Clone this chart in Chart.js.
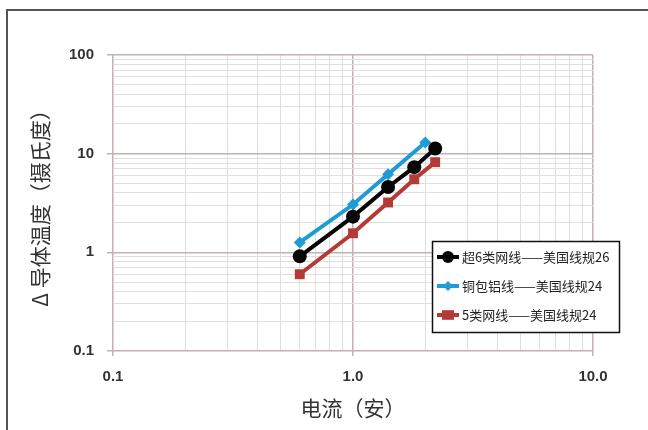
<!DOCTYPE html>
<html>
<head>
<meta charset="utf-8">
<script src="https://cdn.jsdelivr.net/npm/chart.js@4/dist/chart.umd.min.js"></script>
<style>
  html, body { margin: 0; padding: 0; background: #fff; }
  #wrap { width: 648px; height: 430px; position: relative; }
</style>
</head>
<body>
<div id="wrap"><canvas id="chart"></canvas></div>
<script>
// Temperature rise of the conductor vs. current, three cable types
const cat6aCurrent = [0.6, 1.0, 1.4, 1.8, 2.2];
const cat6aRise    = [0.91, 2.3, 4.6, 7.3, 11.3];

const ccaCurrent = [0.6, 1.0, 1.4, 2.0];
const ccaRise    = [1.26, 3.05, 6.2, 13.0];

const cat5Current = [0.6, 1.0, 1.4, 1.8, 2.2];
const cat5Rise    = [0.60, 1.56, 3.2, 5.5, 8.2];

const seriesLabels = ['超6类网线——美国线规26', '铜包铝线——美国线规24', '5类网线——美国线规24'];

// log grid lines (decades labelled)
const currentGrid = [0.1, 0.2, 0.3, 0.4, 0.5, 0.6, 0.7, 0.8, 0.9, 1, 2, 3, 4, 5, 6, 7, 8, 9, 10];
const riseGrid = [0.1, 0.2, 0.3, 0.4, 0.5, 0.6, 0.7, 0.8, 0.9, 1, 2, 3, 4, 5, 6, 7, 8, 9,
                  10, 20, 30, 40, 50, 60, 70, 80, 90, 100];
const currentTickValues = [0.1, 1, 10];
const currentTickLabels = ['0.1', '1.0', '10.0'];
const riseTickValues = [0.1, 1, 10, 100];
const riseTickLabels = ['0.1', '1', '10', '100'];

const CJK = '"Noto Sans CJK SC", "Noto Sans", sans-serif';
const MAJOR = '#c2b2b2';
const MINOR = '#e3dede';

const toPoints = (xs, ys) => xs.map((x, i) => ({ x, y: ys[i] }));

function labelFor(values, labels) {
    return (v) => {
        const i = values.indexOf(v);
        return i < 0 ? '' : labels[i];
    };
}

function isDecade(v) {
    const e = Math.log10(v);
    return Math.abs(e - Math.round(e)) < 1e-9;
}

// outer frame around the figure
const framePlugin = {
    id: 'frame',
    beforeDraw(chart) {
        const ctx = chart.ctx;
        ctx.save();
        ctx.strokeStyle = '#555';
        ctx.lineWidth = 2;
        ctx.strokeRect(7, 10, 720, 520);
        ctx.restore();
    },
};

// boxed legend sitting inside the plot
const boxLegend = {
    id: 'boxLegend',
    afterDraw(chart) {
        const ctx = chart.ctx;
        const x = 432, y = 241, w = 187, h = 91;
        ctx.save();
        ctx.fillStyle = '#fff';
        ctx.fillRect(x, y, w, h);
        ctx.strokeStyle = '#111';
        ctx.lineWidth = 1.5;
        ctx.strokeRect(x + 0.5, y + 0.5, w, h);

        chart.data.datasets.forEach((ds, i) => {
            const cy = y + 16 + i * 29;
            const mx = x + 16;
            ctx.strokeStyle = ds.borderColor;
            ctx.lineWidth = 4;
            ctx.beginPath();
            ctx.moveTo(x + 5, cy);
            ctx.lineTo(x + 27, cy);
            ctx.stroke();

            ctx.fillStyle = ds.pointBackgroundColor;
            const r = ds.pointRadius - 1;
            ctx.beginPath();
            if (ds.pointStyle === 'circle') {
                ctx.arc(mx, cy, r, 0, Math.PI * 2);
            } else if (ds.pointStyle === 'rectRot') {
                ctx.moveTo(mx, cy - r); ctx.lineTo(mx + r, cy);
                ctx.lineTo(mx, cy + r); ctx.lineTo(mx - r, cy);
                ctx.closePath();
            } else {
                ctx.rect(mx - r, cy - r * 0.8, r * 2, r * 1.6);
            }
            ctx.fill();

            ctx.fillStyle = '#222';
            ctx.font = '13px ' + CJK;
            ctx.textBaseline = 'middle';
            ctx.fillText(ds.label, x + 30, cy);
        });
        ctx.restore();
    },
};

const line = (label, pts, color, style, radius) => ({
    label,
    data: pts,
    showLine: true,
    borderColor: color,
    backgroundColor: color,
    pointBackgroundColor: color,
    pointBorderColor: color,
    borderWidth: 4,
    pointStyle: style,
    pointRadius: radius,
    pointBorderWidth: 0,
});

new Chart(document.getElementById('chart'), {
    type: 'scatter',
    data: {
        datasets: [
            line(seriesLabels[0], toPoints(cat6aCurrent, cat6aRise), '#050505', 'circle', 7),
            line(seriesLabels[1], toPoints(ccaCurrent, ccaRise), '#1f9bd7', 'rectRot', 6),
            line(seriesLabels[2], toPoints(cat5Current, cat5Rise), '#b43a36', 'rect', 7),
        ],
    },
    options: {
        responsive: true,
        maintainAspectRatio: false,
        animation: false,
        layout: { padding: { top: 55, right: 55, left: 0, bottom: 0 } },
        plugins: {
            legend: { display: false },
            tooltip: { enabled: false },
        },
        scales: {
            x: {
                type: 'logarithmic',
                min: 0.1,
                max: 10,
                afterBuildTicks: (s) => { s.ticks = currentGrid.map(v => ({ value: v })); },
                afterFit: (s) => { s.height = 79; },
                border: { display: false },
                grid: {
                    color: (c) => isDecade(c.tick.value) ? MAJOR : MINOR,
                    lineWidth: (c) => isDecade(c.tick.value) ? 1.5 : 1,
                    tickColor: (c) => isDecade(c.tick.value) ? MAJOR : 'rgba(0,0,0,0)',
                    tickLength: 5,
                },
                ticks: {
                    autoSkip: false,
                    maxRotation: 0,
                    padding: 12,
                    color: '#333',
                    font: { family: '"Liberation Sans", sans-serif', size: 15, weight: 'bold' },
                    callback: labelFor(currentTickValues, currentTickLabels),
                },
                title: {
                    display: true,
                    text: '电流（安）',
                    color: '#333',
                    font: { family: CJK, size: 21 },
                    padding: { top: 0, bottom: 9 },
                },
            },
            y: {
                type: 'logarithmic',
                min: 0.1,
                max: 100,
                afterBuildTicks: (s) => { s.ticks = riseGrid.map(v => ({ value: v })); },
                afterFit: (s) => { s.width = 113; },
                border: { display: false },
                grid: {
                    color: (c) => isDecade(c.tick.value) ? MAJOR : MINOR,
                    lineWidth: (c) => isDecade(c.tick.value) ? 1.5 : 1,
                    tickColor: (c) => isDecade(c.tick.value) ? MAJOR : 'rgba(0,0,0,0)',
                    tickLength: 6,
                },
                ticks: {
                    autoSkip: false,
                    padding: 13,
                    color: '#333',
                    font: { family: '"Liberation Sans", sans-serif', size: 15, weight: 'bold' },
                    callback: labelFor(riseTickValues, riseTickLabels),
                },
                title: {
                    display: true,
                    text: 'Δ 导体温度（摄氏度）',
                    color: '#333',
                    font: { family: CJK, size: 21 },
                    padding: { top: 27, bottom: 0 },
                },
            },
        },
    },
    plugins: [framePlugin, boxLegend],
});
</script>
</body>
</html>
